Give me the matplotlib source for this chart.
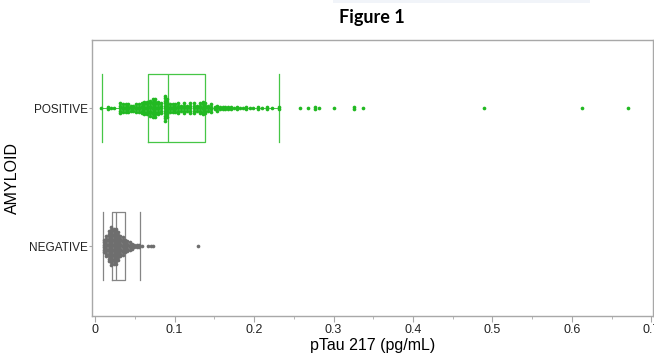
import numpy as np
import matplotlib
matplotlib.use('Agg')
import matplotlib.pyplot as plt

# pTau 217 values (bin value -> number of stacked dots)
pos_vals = [0.0072, 0.0164, 0.0205, 0.0239, 0.0315, 0.0348, 0.0382, 0.0415, 0.0449,
            0.0482, 0.0516, 0.0549, 0.0583, 0.0616, 0.0650, 0.0692, 0.0725, 0.0759,
            0.0792, 0.0826, 0.0876, 0.0910, 0.0943, 0.0977, 0.1010, 0.1044, 0.1086,
            0.1119, 0.1161, 0.1195, 0.1245, 0.1287, 0.1321, 0.1354, 0.1388, 0.1421,
            0.1463, 0.1505, 0.1538, 0.1572, 0.1606, 0.1639, 0.1673, 0.171, 0.175,
            0.179, 0.182, 0.186, 0.190, 0.195, 0.199, 0.205, 0.210, 0.216, 0.223,
            0.231, 0.258, 0.268, 0.277, 0.282, 0.301, 0.326, 0.337, 0.489, 0.613, 0.670]
pos_counts = [1, 2, 1, 1, 5, 4, 4, 4, 3,
              3, 4, 4, 5, 6, 6, 7, 8, 8,
              6, 5, 11, 8, 4, 4, 4, 5, 3,
              5, 3, 5, 5, 3, 5, 6, 5, 3,
              4, 2, 3, 2, 2, 2, 2, 2, 1,
              2, 1, 1, 2, 1, 1, 2, 1, 2, 1,
              2, 1, 1, 2, 1, 1, 2, 1, 1, 1, 1]

neg_vals = [0.0105, 0.0134, 0.0168, 0.0197, 0.0231, 0.0260, 0.0285, 0.0314, 0.0344,
            0.0373, 0.0403, 0.0432, 0.0461, 0.0491, 0.0524, 0.0553, 0.0583, 0.067,
            0.0704, 0.0733, 0.130]
neg_counts = [6, 9, 13, 16, 15, 15, 12, 9, 8,
              6, 5, 4, 3, 2, 2, 2, 1, 1,
              1, 1, 1]

# box statistics as drawn (whisker low, Q1, median, Q3, whisker high)
pos_box = [0.0085, 0.067, 0.092, 0.138, 0.231]
neg_box = [0.0097, 0.021, 0.026, 0.037, 0.057]

categories = ['NEGATIVE', 'POSITIVE']

pos_dot = '#22b922'
pos_line = '#46c646'
neg_dot = '#6e6e6e'
neg_line = '#858585'

fig = plt.figure(figsize=(6.54, 3.54), dpi=100)
ax = fig.add_axes([92 / 654, 38 / 354, (653 - 92) / 654, (316 - 40) / 354])

# faint band at the very top of the screenshot
fig.patches.append(plt.Rectangle((333 / 654, 351 / 354), 257 / 654, 3 / 354,
                                 transform=fig.transFigure, color='#f1f4f9', lw=0))

step = 2.5 / 138  # vertical gap between stacked dots, in category units


def stack(vals, counts, ypos):
    xs, ys = [], []
    for v, c in zip(vals, counts):
        offs = (np.arange(c) - (c - 1) / 2) * step
        xs.extend([v] * c)
        ys.extend(ypos + offs)
    return xs, ys


def draw_box(stats, ypos, color):
    st = dict(whislo=stats[0], q1=stats[1], med=stats[2], q3=stats[3], whishi=stats[4])
    ax.bxp([st], positions=[ypos], widths=0.49, capwidths=0.49, orientation='horizontal',
           showfliers=False, manage_ticks=False,
           boxprops=dict(color=color, lw=0.9),
           medianprops=dict(color=color, lw=0.9),
           whiskerprops=dict(color=color, lw=0.7),
           capprops=dict(color=color, lw=0.9))


draw_box(neg_box, 0, neg_line)
draw_box(pos_box, 1, pos_line)

x, y = stack(neg_vals, neg_counts, 0)
ax.scatter(x, y, s=7, color=neg_dot, lw=0, zorder=3)
x, y = stack(pos_vals, pos_counts, 1)
ax.scatter(x, y, s=7, color=pos_dot, lw=0, zorder=3)

ax.set_xlim(-0.004, 0.702)
ax.set_ylim(-0.507, 1.493)
ax.set_xticks(np.arange(0, 0.71, 0.1))
ax.set_xticklabels(['0', '0.1', '0.2', '0.3', '0.4', '0.5', '0.6', '0.7'])
ax.set_xticks(np.arange(0.05, 0.7, 0.1), minor=True)
ax.set_yticks([0, 1])
ax.set_yticklabels(categories)

for s in ax.spines.values():
    s.set_color('#a8a8a8')
    s.set_linewidth(1)
ax.tick_params(axis='x', which='major', length=4, color='#a8a8a8', labelsize=9, pad=2)
ax.tick_params(axis='x', which='minor', length=2.5, color='#a8a8a8')
ax.tick_params(axis='y', length=2, color='#a8a8a8', labelsize=8.5, pad=1)
for lab in ax.get_xticklabels() + ax.get_yticklabels():
    lab.set_fontfamily('Liberation Sans')
    lab.set_color('#222222')

ax.set_xlabel('pTau 217 (pg/mL)', fontsize=11.5, family='Liberation Sans', labelpad=1)
ax.set_ylabel('AMYLOID', fontsize=11.5, family='Liberation Sans')
ax.yaxis.set_label_coords(-0.128, 0.5)

fig.text(372 / 654, 336 / 354, 'Figure 1', ha='center', va='center',
         fontsize=13, fontweight='bold', family='Lato')

fig.savefig('out.png', dpi=100)
